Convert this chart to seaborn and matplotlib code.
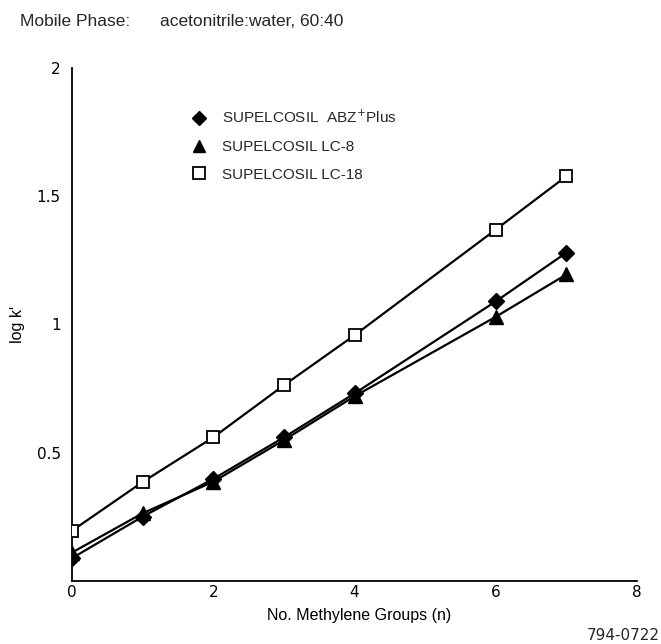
import matplotlib
matplotlib.use("Agg")
import matplotlib.pyplot as plt
from matplotlib.lines import Line2D
import seaborn as sns
import pandas as pd

sns.set_theme(style="white")
plt.rcParams['font.family'] = ['Liberation Sans', 'DejaVu Sans']

# Data
n_groups = [0, 1, 2, 3, 4, 6, 7]
abz_plus = [0.089, 0.251, 0.398, 0.560, 0.731, 1.090, 1.280]
lc8 = [0.111, 0.264, 0.387, 0.549, 0.720, 1.030, 1.195]
lc18 = [0.196, 0.386, 0.560, 0.763, 0.958, 1.370, 1.578]
series_names = ["SUPELCOSIL  ABZ$^{+}$Plus", "SUPELCOSIL LC-8", "SUPELCOSIL LC-18"]
x_ticks = [0, 2, 4, 6, 8]
y_ticks = [0.5, 1, 1.5, 2]
y_tick_labels = ["0.5", "1", "1.5", "2"]

df = pd.concat([
    pd.DataFrame({"n": n_groups, "logk": abz_plus, "col": series_names[0]}),
    pd.DataFrame({"n": n_groups, "logk": lc8, "col": series_names[1]}),
    pd.DataFrame({"n": n_groups, "logk": lc18, "col": series_names[2]}),
])

fig = plt.figure(figsize=(6.61, 6.44), dpi=100)
ax = fig.add_axes([72 / 661, 1 - 581 / 644, (637 - 72) / 661, (581 - 68) / 644])

marker_styles = {
    series_names[0]: dict(marker="D", ms=8, mfc="black", mec="black"),
    series_names[1]: dict(marker="^", ms=10, mfc="black", mec="black"),
    series_names[2]: dict(marker="s", ms=9, mfc="white", mec="black", mew=1.3),
}
for name in series_names:
    sub = df[df["col"] == name]
    st = marker_styles[name]
    sns.lineplot(data=sub, x="n", y="logk", ax=ax, color="black", lw=1.6,
                 marker=st["marker"], markersize=st["ms"],
                 markerfacecolor=st["mfc"], markeredgecolor=st["mec"],
                 markeredgewidth=st.get("mew", 1.0), legend=False, zorder=3)

narrow = ['Liberation Sans Narrow', 'DejaVu Sans Condensed', 'DejaVu Sans']

ax.set_xlim(0, 8)
ax.set_ylim(0, 2)
ax.set_xticks(x_ticks)
ax.set_xticklabels([str(v) for v in x_ticks])
ax.set_yticks(y_ticks)
ax.set_yticklabels(y_tick_labels)
for s in ["top", "right"]:
    ax.spines[s].set_visible(False)
for s in ["left", "bottom"]:
    ax.spines[s].set_color("black")
    ax.spines[s].set_linewidth(1.3)
ax.tick_params(direction="in", length=7, width=1.3, colors="black", labelsize=11)
ax.tick_params(axis="y", pad=8)
ax.tick_params(axis="x", pad=3)
ax.yaxis.get_major_ticks()[-1].tick1line.set_visible(False)
ax.xaxis.get_major_ticks()[0].tick1line.set_visible(False)
for lab in ax.get_xticklabels() + ax.get_yticklabels():
    lab.set_family(narrow)
ax.grid(False)
ax.set_facecolor("white")

ax.set_xlabel("No. Methylene Groups (n)", fontsize=11.5, color="black")
ax.xaxis.set_label_coords((359 - 72) / 565, -0.052)
ax.xaxis.label.set_va("top")
ax.set_ylabel("log k'", fontsize=11.5, color="black")
ax.yaxis.set_label_coords(-0.083, 0.5)

handles = []
for name in series_names:
    st = marker_styles[name]
    handles.append(Line2D([], [], ls="none", marker=st["marker"],
                          markersize=st["ms"] * 0.9, markerfacecolor=st["mfc"],
                          markeredgecolor=st["mec"], markeredgewidth=st.get("mew", 1.0)))
leg = ax.legend(handles, series_names, loc="upper left",
                bbox_to_anchor=(191 / 661, 1 - 109 / 644), bbox_transform=fig.transFigure,
                frameon=False, fontsize=11, labelspacing=0.9, handlelength=1.0,
                handletextpad=1.0, borderaxespad=0, borderpad=0)

fig.text(20 / 661, 1 - 21 / 644, "Mobile Phase:", fontsize=12.5, va="center", ha="left")
fig.text(160 / 661, 1 - 21 / 644, "acetonitrile:water, 60:40", fontsize=12.5, va="center", ha="left")
fig.text(660 / 661, 1 - 636 / 644, "794-0722", fontsize=11, va="center", ha="right",
         family=narrow)

fig.savefig("out.png", dpi=100, facecolor="white")
